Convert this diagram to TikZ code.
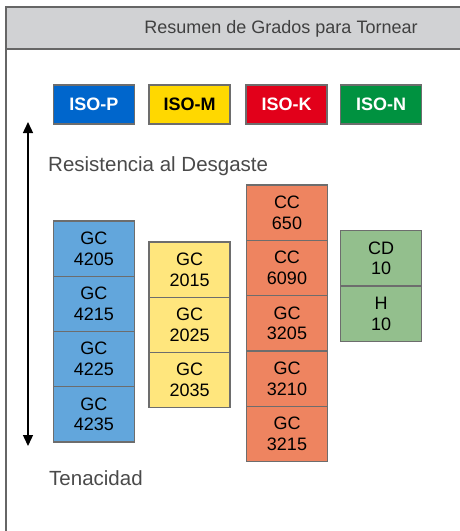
\documentclass[tikz,border=0pt]{standalone}
\usepackage{fontspec}
\setmainfont{Liberation Sans}
\usetikzlibrary{arrows.meta}
\definecolor{frameg}{HTML}{666666}
\definecolor{headfill}{HTML}{D1D2D4}
\definecolor{headtxt}{HTML}{404040}
\definecolor{labtxt}{HTML}{4A4A4A}
\definecolor{isoP}{HTML}{0066CC}
\definecolor{isoM}{HTML}{FFD800}
\definecolor{isoK}{HTML}{E2001A}
\definecolor{isoN}{HTML}{009240}
\definecolor{cellP}{HTML}{62A6DC}
\definecolor{cellM}{HTML}{FFE67D}
\definecolor{cellK}{HTML}{EE8460}
\definecolor{cellN}{HTML}{93BF8D}
\definecolor{cellborder}{HTML}{6D6D6D}
\tikzset{
  isobox/.style={draw=cellborder, line width=1.3pt, minimum width=81pt, minimum height=39pt, inner sep=0pt,
    font=\fontsize{18}{20}\selectfont\bfseries},
  cellbox/.style={draw=cellborder, line width=1.3pt, minimum width=81pt, minimum height=55.3pt, inner sep=0pt,
    align=center, font=\fontsize{18}{20.7}\selectfont},
  lab/.style={text=labtxt, inner sep=0pt, font=\fontsize{20.5}{24}\selectfont},
}
\begin{document}
\begin{tikzpicture}[x=1pt,y=-1pt]
\useasboundingbox (0,0) rectangle (460,531);
% frame and header
\fill[headfill] (6,7) rectangle (462,49);
\draw[frameg, line width=2pt] (6,531) -- (6,7) -- (462,7);
\draw[frameg, line width=2pt] (6,49) -- (462,49);
\node[text=headtxt, inner sep=0pt, anchor=base, font=\fontsize{18}{20}\selectfont] (title) at (281,33) {Resumen de Grados para Tornear};
% ISO boxes
\node[isobox, fill=isoP, text=white] (isop) at (93.8,104.5) {ISO-P};
\node[isobox, fill=isoM, text=black] (isom) at (189.6,104.5) {ISO-M};
\node[isobox, fill=isoK, text=white] (isok) at (286.6,104.5) {ISO-K};
\node[isobox, fill=isoN, text=white] (ison) at (381.2,104.5) {ISO-N};
% arrow
\coordinate (atop) at (28,122);
\coordinate (abot) at (28,446);
\draw[line width=1.4pt, {Triangle[width=10pt,length=11pt]}-{Triangle[width=10pt,length=11pt]}] (atop) -- (abot);
\node[lab, anchor=base west] (res) at (48,171) {Resistencia al Desgaste};
\node[lab, anchor=base west] (ten) at (49,485) {Tenacidad};
% ISO-P column
\node[cellbox, fill=cellP] (p1) at (93.8,248.5) {GC\\4205};
\node[cellbox, fill=cellP] (p2) at (93.8,303.8) {GC\\4215};
\node[cellbox, fill=cellP] (p3) at (93.8,359.1) {GC\\4225};
\node[cellbox, fill=cellP] (p4) at (93.8,414.4) {GC\\4235};
% ISO-M column
\node[cellbox, fill=cellM] (m1) at (189.6,269.5) {GC\\2015};
\node[cellbox, fill=cellM] (m2) at (189.6,324.8) {GC\\2025};
\node[cellbox, fill=cellM] (m3) at (189.6,380.1) {GC\\2035};
% ISO-K column
\node[cellbox, fill=cellK] (k1) at (287,212.7) {CC\\650};
\node[cellbox, fill=cellK] (k2) at (287,268.0) {CC\\6090};
\node[cellbox, fill=cellK] (k3) at (287,323.3) {GC\\3205};
\node[cellbox, fill=cellK] (k4) at (287,378.6) {GC\\3210};
\node[cellbox, fill=cellK] (k5) at (287,433.9) {GC\\3215};
% ISO-N column
\node[cellbox, fill=cellN] (n1) at (381.2,258.4) {CD\\10};
\node[cellbox, fill=cellN] (n2) at (381.2,313.7) {H\\10};
\end{tikzpicture}
\end{document}
